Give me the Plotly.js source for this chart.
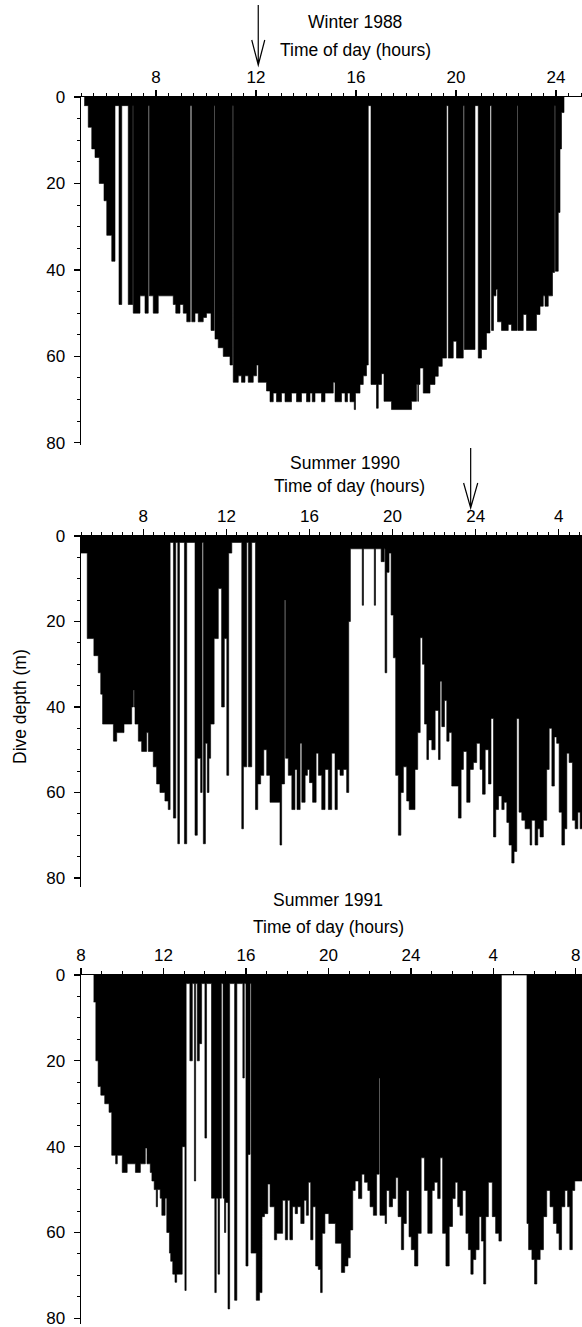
<!DOCTYPE html>
<html><head><meta charset="utf-8">
<script src="https://cdn.plot.ly/plotly-3.0.1.min.js"></script>
<style>html,body{margin:0;padding:0;background:#fff}#chart{width:582px;height:1327px}</style>
</head><body><div id="chart"></div>
<script>
// ---- Winter 1988 : start time of each dive segment (h) and max depth (m) ----
const winterTime = [5.13,5.29,5.43,5.56,5.73,5.92,6.03,6.23,6.36,6.52,6.63,6.89,7.07,7.09,7.36,7.56,7.69,7.73,7.89,8.09,8.69,8.79,8.96,9.09,9.23,9.37,9.43,9.56,9.69,9.89,10.02,10.2,10.33,10.36,10.49,10.69,10.96,11.06,11.09,11.29,11.42,11.56,11.69,11.89,12.02,12.09,12.42,12.56,12.69,12.82,13.02,13.16,13.42,13.62,13.82,14.02,14.16,14.25,14.36,14.62,14.76,15.09,15.16,15.42,15.56,15.66,15.76,15.93,15.98,16.16,16.29,16.42,16.49,16.6,16.82,16.89,17.02,17.12,17.42,18.22,18.42,18.47,18.5,18.56,18.69,18.96,19.16,19.29,19.45,19.62,19.69,19.89,20.02,20.29,20.33,20.76,20.89,21.02,21.22,21.36,21.42,21.5,21.6,21.66,21.82,22.09,22.22,22.45,22.48,22.69,22.82,23.22,23.36,23.49,23.56,23.69,23.86,23.94,23.97,24.09,24.16,24.22,24.32];
const winterDepth = [2,7,12,14,20,24,32,38,2,48,2,48,2,50,46,50,2,46,50,46,48,50,48,50,52,2,52,50,52,51,50,54,2,56,58,60,62,2,66,64.5,66,64.5,66,64.5,62,66,68,70.5,68.5,70.5,68.5,70.5,68.5,70.5,68.5,70.5,68.5,70.5,68.5,70.5,68.5,66,70.5,68.5,70.5,68.5,70.5,72.3,68.5,66.5,64.5,62,2,66.5,72,66.5,64,70.4,72.3,70.4,66.5,70.4,66.5,62.7,68.5,66.5,64.6,62.3,60.4,2,60.4,56.5,60.4,2,58.4,2,60.4,58.4,54.6,2,54,46,44.5,52,54,52.6,54,2,54,50.3,54,50.3,48.4,46,48.4,46,40.6,2,40.3,26.7,12,3.6,0];

// ---- Summer 1990 ----
const summer90Time = [5.0,5.3,5.62,5.83,5.95,6.04,6.56,6.72,7.07,7.44,7.52,7.56,7.6,7.76,7.92,8.16,8.24,8.48,8.64,8.8,9.04,9.2,9.29,9.45,9.56,9.66,9.74,9.98,10.09,10.49,10.6,10.76,10.83,10.89,10.99,11.08,11.16,11.24,11.41,11.61,11.77,11.9,12.02,12.11,12.26,12.74,12.82,12.98,13.06,13.22,13.4,13.51,13.65,13.8,13.94,14.1,14.58,14.66,14.8,14.85,14.98,15.15,15.3,15.4,15.55,15.63,15.79,15.9,16.0,16.15,16.32,16.43,16.59,16.75,16.91,17.07,17.23,17.34,17.47,17.63,17.79,17.89,17.97,18.54,18.6,19.12,19.18,19.45,19.6,19.64,19.72,19.83,19.93,20.04,20.15,20.28,20.4,20.52,20.68,20.8,21.08,21.21,21.33,21.44,21.54,21.65,21.73,21.89,22.05,22.21,22.29,22.37,22.5,22.61,22.72,22.85,23.17,23.3,23.41,23.57,23.73,23.89,24.05,24.21,24.33,24.46,24.62,24.74,24.86,24.97,25.1,25.26,25.37,25.5,25.61,25.74,25.85,25.98,26.09,26.22,26.38,26.62,26.7,26.86,26.99,27.1,27.26,27.42,27.54,27.67,27.79,27.9,28.02,28.15,28.28,28.39,28.5,28.66,28.79,28.92,29.03,29.2];
const summer90Depth = [4,24,28,32,37,44,48,46,44,40,36,40,44,48,50.4,46,50.4,54,58,60,62,64,1.5,66,1.5,72,1.5,72,1.5,70,52,60,1.5,72,48.5,60,52,44,24,12.3,40,24,56,4,1.5,68.5,54,1.5,54,1.5,64,58,56,50,56,62.3,72.3,58,15,52,56,64,54.6,64,48.5,62.3,56,54.6,57.7,62.3,50.8,56,64,54.6,64,50.8,64,54.6,56,54.6,60,20,3,16.2,3,16.2,3,6,3,32,8.5,4,18.5,28.5,56,70,60,54,62,64,54.6,46,23.8,30,44,52.3,47.7,50,40.8,52.3,34,44.6,38.5,48,46,58.5,66,54.6,50.4,62.3,54.6,53,48.5,54.6,60.4,50,58,42.7,70.4,64,60.8,64,62.3,67,72.3,76.5,73.8,42.7,64.6,66.5,68.5,72.3,66.5,72.3,68.5,70.4,66.5,54.6,45,58.5,47,48.5,64.6,72.3,68.5,50.8,53,66.5,68.5,64.6,68.5,0];

// ---- Summer 1991 ----
const summer91Time = [8.61,8.72,8.83,8.96,9.15,9.36,9.49,9.68,9.76,10.0,10.24,10.64,10.88,11.12,11.2,11.36,11.44,11.55,11.65,11.71,11.84,11.92,12.08,12.16,12.29,12.35,12.45,12.56,12.64,12.91,13.04,13.1,13.28,13.4,13.5,13.56,13.64,13.74,13.85,14.01,14.09,14.33,14.49,14.56,14.65,14.72,14.81,14.89,14.96,15.02,15.13,15.21,15.45,15.56,15.85,15.92,16.0,16.1,16.2,16.25,16.5,16.66,16.78,16.9,17.06,17.17,17.38,17.49,17.78,17.91,18.02,18.13,18.26,18.39,18.5,18.66,18.82,18.93,19.03,19.14,19.25,19.38,19.51,19.62,19.7,19.83,20.02,20.34,20.63,20.79,20.95,21.06,21.18,21.3,21.46,21.62,21.75,21.91,22.02,22.18,22.34,22.46,22.5,22.75,22.82,22.95,23.11,23.27,23.38,23.54,23.65,23.78,23.91,24.02,24.18,24.34,24.5,24.66,24.82,25.03,25.14,25.3,25.42,25.54,25.7,25.86,26.02,26.15,26.27,26.38,26.51,26.67,26.79,26.91,27.02,27.15,27.31,27.42,27.53,27.63,27.76,27.95,28.11,28.27,28.39,29.63,29.71,29.87,30.0,30.11,30.27,30.43,30.59,30.75,30.91,31.07,31.19,31.31,31.47,31.6,31.71,31.83,31.95,32.4];
const summer91Depth = [6.3,20,26,28,30,32,42,44,42,46,44,46,44,40.3,44,46,48,50,54,50,52,56,52,60,64.8,66.7,69.7,71.6,69.7,40,73.5,2,20,2,48,2,20,16,2,38,2,52,74,52,69.7,52,2,52,60,53,77.8,2,75.8,2,24,2,67.8,41.8,2,64.8,75.8,74,56.3,55.6,48.7,54,61.7,60.2,52.5,61.7,52.5,61.7,54,55.6,54,57.9,52.5,56,48.3,61.7,54,67.8,68.6,74,60.2,55.6,57.9,62.5,69.3,67.8,65.9,59.4,50.2,48,52.1,46.4,48.3,50.2,54,56,46.4,24,56,57.9,50.2,54,52.1,47.2,56.3,64,57.9,50.2,61,64,67.8,60.2,42.6,50.2,60.2,50.2,48.3,52.1,42.6,60.2,67.8,58.6,52.1,48.3,54,56,50.2,60.2,64,69.7,66.3,64,56.3,62,72,56.3,48.3,56.3,60.2,62,0,57.9,64,66.3,72,66.3,64,56.3,50.2,54,57.9,60.2,64,54,50.2,54,64,50.2,48,0];

const depthTicks = [0,20,40,60,80];
const tickW88 = [8,12,16,20,24];          const labW88 = ['8','12','16','20','24'];
const tickS90 = [8,12,16,20,24,28];       const labS90 = ['8','12','16','20','24','4'];
const tickS91 = [8,12,16,20,24,28,32];    const labS91 = ['8','12','16','20','24','4','8'];
const panelTitles = ['Winter 1988','Summer 1990','Summer 1991'];
const axisTitleX = 'Time of day (hours)';
const axisTitleY = 'Dive depth (m)';
const arrowTimes = [12.09, 23.76];

const FONT = 'Liberation Sans, Arial, Helvetica, sans-serif';
const W = 582, H = 1327, L = 81, PW = W - L;
const py = p => 1 - p / H;

function trace(t, d, xa, ya) {
  return {x: t, y: d, type: 'scatter', mode: 'lines', xaxis: xa, yaxis: ya,
    line: {shape: 'hv', color: '#000', width: 0.6}, fill: 'tozeroy', fillcolor: '#000',
    hoverinfo: 'skip', showlegend: false};
}
function xax(range, tv, tt, minorDt, anchor) {
  return {range, side: 'top', anchor, domain: [0, 1], tickmode: 'array', tickvals: tv, ticktext: tt,
    ticks: 'outside', ticklen: 6, tickwidth: 1.3, tickcolor: '#000', ticklabeloverflow: 'allow',
    showline: true, linecolor: '#000', linewidth: 1.4, showgrid: false, zeroline: false,
    tickfont: {family: FONT, size: 17, color: '#000'},
    minor: {tickmode: 'linear', tick0: 0, dtick: minorDt, ticks: 'outside', ticklen: 3, tickwidth: 1, tickcolor: '#000', showgrid: false},
    fixedrange: true};
}
function yax(range, domain, anchor) {
  return {range, domain, anchor, tickmode: 'array', tickvals: depthTicks,
    ticks: 'outside', ticklen: 6, tickwidth: 1.3, tickcolor: '#000', ticklabeloverflow: 'allow',
    showline: true, linecolor: '#000', linewidth: 1.4, showgrid: false, zeroline: false,
    tickfont: {family: FONT, size: 17, color: '#000'}, ticklabelstandoff: 5,
    minor: {tickmode: 'linear', tick0: 0, dtick: 5, ticks: 'outside', ticklen: 3, tickwidth: 1, tickcolor: '#000', showgrid: false},
    fixedrange: true};
}
function ann(text, xpx, ypx, size, angle) {
  return {text, xref: 'paper', yref: 'paper', x: (xpx - L) / PW, y: py(ypx), xanchor: 'center', yanchor: 'middle',
    showarrow: false, textangle: angle || 0, font: {family: FONT, size, color: '#000'}};
}
function arrow(xref, xt, y0, y1, yh, w) {
  return {type: 'path', xref, yref: 'paper', line: {color: '#000', width: 1.2},
    path: `M ${xt},${py(y0)} L ${xt},${py(y1)} M ${xt - w},${py(yh)} L ${xt},${py(y1)} L ${xt + w},${py(yh)}`};
}

const data = [
  trace(winterTime, winterDepth, 'x', 'y'),
  trace(summer90Time, summer90Depth, 'x2', 'y2'),
  trace(summer91Time, summer91Depth, 'x3', 'y3')
];
const layout = {
  width: W, height: H, margin: {l: L, r: 0, t: 0, b: 0},
  paper_bgcolor: '#fff', plot_bgcolor: '#fff', showlegend: false,
  xaxis: xax([5, 25.04], tickW88, labW88, 0.5, 'y'),
  yaxis: yax([80.5, 0], [py(445), py(97)], 'x'),
  xaxis2: xax([5, 29.12], tickS90, labS90, 0.5, 'y2'),
  yaxis2: yax([82, 0], [py(886.5), py(536)], 'x2'),
  xaxis3: xax([8, 32.3], tickS91, labS91, 1, 'y3'),
  yaxis3: yax([81.2, 0], [py(1323.5), py(975)], 'x3'),
  annotations: [
    ann(panelTitles[0], 355, 22, 17.5), ann(axisTitleX, 355, 50, 17.5),
    ann(panelTitles[1], 345, 463, 17.5), ann(axisTitleX, 349, 486, 17.5),
    ann(panelTitles[2], 328, 900, 17.5), ann(axisTitleX, 328, 927, 17.5),
    ann(axisTitleY, 20, 707, 17.5, -90)
  ],
  shapes: [
    arrow('x', arrowTimes[0], 5, 65, 40, 0.26),
    arrow('x2', arrowTimes[1], 448, 508, 483, 0.34)
  ]
};
Plotly.newPlot('chart', data, layout, {staticPlot: true, displayModeBar: false});
</script>
</body></html>
